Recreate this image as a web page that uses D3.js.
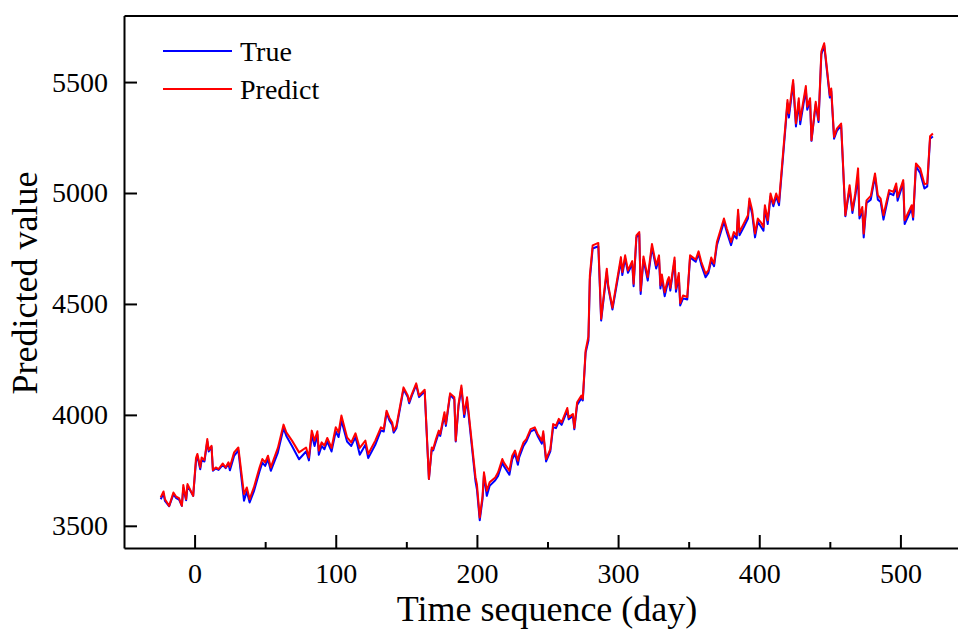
<!DOCTYPE html>
<html>
<head>
<meta charset="utf-8">
<script src="https://cdn.jsdelivr.net/npm/d3@7"></script>
<style>
    body { margin: 0; background: #fff; }
    svg { display: block; }
    text { font-family: "Liberation Serif", "Times New Roman", serif; fill: #000; }
</style>
</head>
<body>
<svg id="chart"></svg>
<script>
// values (day, true value, predicted value)
const days = [
    -24, -22, -21, -18, -15, -13, -11, -9, -8, -6, -5, -1,
    1, 2, 4, 5, 7, 9, 10, 12, 13, 15, 17, 20, 22, 24, 25, 28, 31, 35, 37, 39, 42, 46, 48, 50, 52, 54, 59,
    63, 65, 69, 74, 79, 81, 83, 85, 87, 88, 90, 92, 94, 97,
    100, 102, 104, 108, 111, 114, 117, 121, 123, 128, 132, 134, 136, 138, 140, 141, 143, 148, 151, 152, 154, 157, 159, 163, 166, 168, 169, 171, 173, 174, 177, 178, 181, 184, 185, 187, 189, 191, 193, 199,
    200, 202, 204, 205, 207, 209, 213, 215, 218, 219, 223, 225, 227, 229, 230, 233, 235, 238, 241, 243, 246, 247, 249, 252, 254, 256, 258, 260, 264, 265, 268, 269, 271, 274, 275, 277, 279, 280, 282, 286, 288, 292, 293, 296,
    302, 303, 305, 307, 310, 311, 313, 315, 316, 318, 321, 324, 327, 329, 330, 331, 333, 335, 336, 337, 340, 341, 343, 344, 346, 349, 351, 355, 357, 359, 362, 364, 366, 368, 370, 375, 377, 380, 382, 384, 385, 386, 389, 392, 393, 395, 397, 399,
    401, 403, 404, 406, 408, 410, 412, 414, 420, 421, 424, 426, 428, 429, 433, 434, 436, 437, 440, 442, 444, 446, 450, 451, 453, 455, 458, 459, 461, 464, 466, 468, 470, 471, 473, 474, 476, 479, 482, 484, 486, 488, 492, 495, 497, 498,
    502, 503, 508, 509, 511, 514, 517, 519, 521, 523
];

const trueValues = [
    3620, 3645, 3612, 3588, 3642, 3625, 3618, 3590, 3670, 3615, 3680, 3635,
    3790, 3815, 3755, 3795, 3790, 3880, 3835, 3855, 3748, 3758, 3752, 3775, 3760, 3780, 3750, 3815, 3840, 3613, 3655, 3605, 3655, 3745, 3785, 3770, 3800, 3748, 3830,
    3940, 3905, 3860, 3800, 3835, 3795, 3910, 3860, 3910, 3820, 3860, 3845, 3880, 3835,
    3925, 3900, 3975, 3880, 3860, 3900, 3820, 3865, 3805, 3865, 3930, 3925, 4010, 3975, 3955, 3920, 3940, 4115, 4080, 4052, 4088, 4135, 4080, 4105, 3711, 3845, 3840, 3880, 3920, 3905, 4000, 3950, 4090, 4070, 3880, 4040, 4120, 3990, 4065, 3700,
    3665, 3525, 3620, 3730, 3635, 3680, 3705, 3725, 3785, 3770, 3730, 3800, 3825, 3775, 3810, 3860, 3880, 3925, 3935, 3905, 3870, 3915, 3790, 3835, 3945, 3940, 3970, 3955, 4020, 3980, 3995, 3935, 4045, 4075, 4065, 4280, 4335, 4610, 4750, 4760, 4425, 4645, 4575, 4475,
    4695, 4630, 4705, 4640, 4680, 4580, 4800, 4815, 4545, 4700, 4605, 4755, 4660, 4705, 4570, 4615, 4535, 4590, 4605, 4560, 4695, 4555, 4625, 4493, 4525, 4520, 4710, 4690, 4725, 4675, 4620, 4640, 4695, 4670, 4765, 4870, 4825, 4765, 4810, 4795, 4910, 4810, 4845, 4885, 4960, 4905, 4800, 4870,
    4850, 4830, 4930, 4860, 4985, 4940, 4985, 4945, 5405, 5340, 5495, 5300, 5410, 5310, 5465, 5375, 5415, 5235, 5400, 5320, 5625, 5665, 5430, 5460, 5245, 5280, 5305, 5170, 4895, 5020, 4910, 4985, 5070, 4885, 4920, 4800, 4955, 4970, 5075, 4970, 4960, 4880, 5000, 4990, 5030, 4965,
    5045, 4860, 4930, 4880, 5120, 5090, 5020, 5030, 5245, 5255
];

const predictValues = [
    3628, 3655, 3620, 3590, 3650, 3631, 3625, 3590, 3684, 3620, 3688, 3635,
    3805, 3824, 3763, 3808, 3797, 3891, 3842, 3861, 3751, 3763, 3756, 3781, 3763, 3786, 3765, 3831, 3853, 3643, 3673, 3620, 3673, 3763, 3801, 3786, 3816, 3763, 3851,
    3956, 3921, 3884, 3831, 3853, 3808, 3929, 3884, 3926, 3839, 3876, 3861, 3896, 3851,
    3944, 3921, 3997, 3899, 3876, 3917, 3851, 3884, 3824, 3884, 3944, 3936, 4019, 3986, 3966, 3929, 3951, 4124, 4087, 4060, 4095, 4142, 4087, 4113, 3711, 3853, 3846, 3891, 3929, 3914, 4012, 3959, 4097, 4079, 3884, 4049, 4132, 4004, 4079, 3718,
    3688, 3537, 3635, 3741, 3658, 3696, 3718, 3741, 3801, 3786, 3748, 3816, 3839, 3793, 3824, 3876, 3891, 3936, 3944, 3914, 3884, 3926, 3801, 3846, 3959, 3951, 3982, 3966, 4031, 3989, 4004, 3941, 4057, 4087, 4072, 4290, 4353, 4629, 4764, 4775, 4433, 4659, 4584, 4483,
    4711, 4644, 4719, 4651, 4693, 4591, 4809, 4824, 4560, 4714, 4621, 4770, 4674, 4719, 4584, 4633, 4553, 4606, 4621, 4573, 4709, 4569, 4639, 4504, 4538, 4531, 4719, 4700, 4737, 4689, 4636, 4651, 4709, 4682, 4779, 4885, 4840, 4779, 4824, 4809, 4925, 4824, 4862, 4900, 4975, 4922, 4817, 4885,
    4869, 4847, 4945, 4877, 4998, 4952, 4998, 4960, 5419, 5359, 5509, 5314, 5427, 5329, 5482, 5389, 5427, 5238, 5411, 5329, 5637, 5675, 5441, 5471, 5253, 5290, 5313, 5178, 4900, 5035, 4922, 4998, 5111, 4900, 4937, 4817, 4967, 4987, 5088, 4990, 4975, 4900, 5013, 5005, 5043, 4982,
    5058, 4877, 4945, 4892, 5133, 5111, 5040, 5043, 5256, 5268
];

const xTicks = [0, 100, 200, 300, 400, 500];
const xMinorTicks = [50, 150, 250, 350, 450, 550];
const yTicks = [3500, 4000, 4500, 5000, 5500];

const seriesNames = ['True', 'Predict'];
const seriesColors = ['#0000ff', '#ff0000'];

const width = 958;
const height = 630;
const margin = {top: 16, right: -13, bottom: 82, left: 124};

const svg = d3.select('#chart')
    .attr('width', width)
    .attr('height', height);

// the right side of the frame runs off the picture
const x = d3.scaleLinear([-50, 550], [margin.left, width - margin.right]);
const y = d3.scaleLinear([3400, 5800], [height - margin.bottom, margin.top - 0.5]);

const tickFont = '28px';

// bottom axis, major + minor ticks pointing inward
svg.append('g')
    .attr('transform', `translate(0,${height - margin.bottom})`)
    .call(d3.axisBottom(x).tickValues(xMinorTicks).tickSizeInner(-6).tickSizeOuter(0).tickFormat(''))
    .call(g => g.select('.domain').remove())
    .call(g => g.selectAll('line').attr('stroke-width', 2));

svg.append('g')
    .attr('transform', `translate(0,${height - margin.bottom})`)
    .call(d3.axisBottom(x).tickValues(xTicks).tickSizeInner(-13).tickSizeOuter(0).tickPadding(15).tickFormat(d3.format('d')))
    .call(g => g.select('.domain').attr('stroke-width', 2))
    .call(g => g.selectAll('line').attr('stroke-width', 2))
    .call(g => g.selectAll('text').style('font-size', tickFont).style('font-family', '"Liberation Serif", serif'));

// left axis
svg.append('g')
    .attr('transform', `translate(${margin.left},0)`)
    .call(d3.axisLeft(y).tickValues(yTicks).tickSizeInner(-13).tickSizeOuter(0).tickPadding(16).tickFormat(d3.format('d')))
    .call(g => g.select('.domain').attr('stroke-width', 2))
    .call(g => g.selectAll('line').attr('stroke-width', 2))
    .call(g => g.selectAll('text').style('font-size', tickFont).style('font-family', '"Liberation Serif", serif'));

// top border
svg.append('g')
    .attr('transform', `translate(0,${y.range()[1]})`)
    .call(d3.axisTop(x).tickValues([]).tickSizeOuter(0))
    .call(g => g.select('.domain').attr('stroke-width', 2));

// lines
const points = days.map((d, i) => ({day: d, t: trueValues[i], p: predictValues[i]}));

const lineTrue = d3.line().x(d => x(d.day)).y(d => y(d.t));
const linePred = d3.line().x(d => x(d.day)).y(d => y(d.p));

svg.append('path')
    .datum(points)
    .attr('fill', 'none')
    .attr('stroke', seriesColors[0])
    .attr('stroke-width', 2)
    .attr('stroke-linejoin', 'round')
    .attr('d', lineTrue);

svg.append('path')
    .datum(points)
    .attr('fill', 'none')
    .attr('stroke', seriesColors[1])
    .attr('stroke-width', 2)
    .attr('stroke-linejoin', 'round')
    .attr('d', linePred);

// legend
const legend = svg.append('g')
    .selectAll('g')
    .data(seriesNames)
    .join('g')
    .attr('transform', (d, i) => `translate(163,${51 + i * 38})`);

legend.append('line')
    .attr('x1', 0).attr('x2', 69)
    .attr('stroke', (d, i) => seriesColors[i])
    .attr('stroke-width', 2);

legend.append('text')
    .attr('x', 77)
    .attr('dy', '0.35em')
    .style('font-size', tickFont)
    .text(d => d);

// axis titles
svg.append('text')
    .attr('x', 547)
    .attr('y', 621)
    .attr('text-anchor', 'middle')
    .style('font-size', '36px')
    .text('Time sequence (day)');

svg.append('text')
    .attr('transform', 'translate(37,283) rotate(-90)')
    .attr('text-anchor', 'middle')
    .style('font-size', '36px')
    .text('Predicted value');
</script>
</body>
</html>
